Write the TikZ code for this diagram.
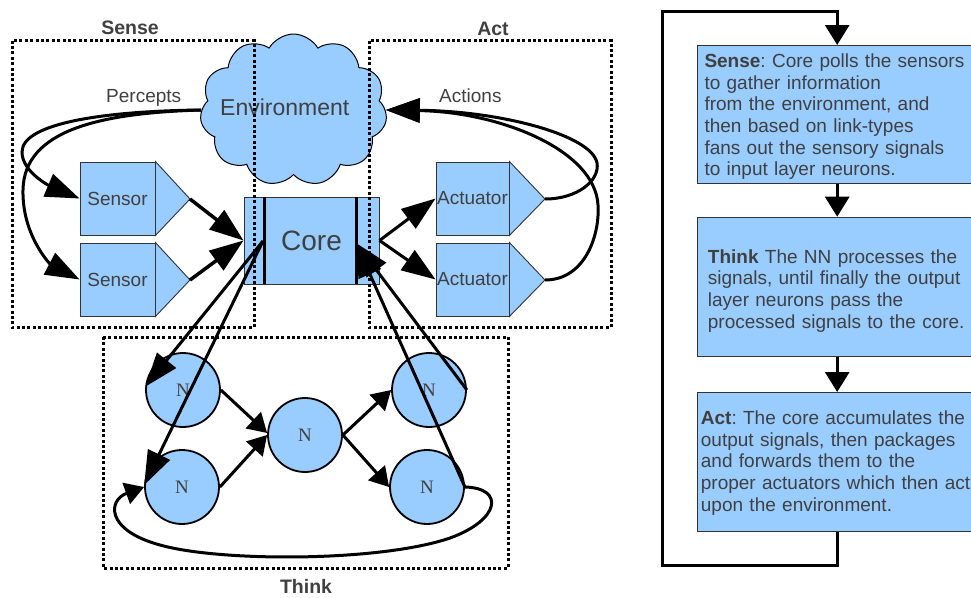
\documentclass[tikz,border=0pt]{standalone}
\usepackage{fontspec}
\setmainfont{Liberation Sans}
\newfontfamily\neurofont{Liberation Serif}
\usetikzlibrary{arrows.meta,shapes.symbols}
\definecolor{skyfill}{HTML}{99CCFF}
\definecolor{inkgray}{HTML}{404040}
\definecolor{edgegray}{HTML}{333333}
\frenchspacing
\begin{document}
\begin{tikzpicture}[x=1pt,y=-1pt,
  every node/.style={text=inkgray},
  font=\fontsize{19}{21.6}\selectfont,
  dotbox/.style={draw=black, line width=3pt, dash pattern=on 3pt off 2.4pt},
  sqbox/.style={rectangle, draw=edgegray, fill=skyfill, line width=0.9pt, minimum width=75pt, minimum height=73pt, inner sep=0pt},
  tri/.style={draw=edgegray, fill=skyfill, line width=0.9pt},
  neuron/.style={circle, draw=black, fill=skyfill, line width=1.8pt, minimum size=74pt, inner sep=0pt, font=\neurofont\fontsize{19}{19}\selectfont},
  bigarrow/.style={line width=3pt, -{Triangle[length=34pt,width=24pt]}},
  smallarrow/.style={line width=3pt, -{Triangle[length=19pt,width=22pt]}},
  stepbox/.style={rectangle, draw=edgegray, fill=skyfill, line width=1pt, anchor=north west, inner sep=0pt, minimum width=280pt},
  steptext/.style={anchor=base west, text width=272pt, align=left, inner sep=0pt},
  loopline/.style={line width=3pt, -{Triangle[length=20pt,width=24pt]}},
  heading/.style={font=\bfseries\fontsize{19.5}{21}\selectfont}
]
\useasboundingbox (0,0) rectangle (971,597);

% ---------- left diagram ----------
\node[cloud, cloud puffs=11, cloud puff arc=120, aspect=1.23, minimum width=187pt, minimum height=152pt,
      fill=skyfill, draw=black, line width=1pt, inner sep=0pt] (env) at (293.5,110) {};
\node[anchor=base west, inner sep=0pt, font=\fontsize{23}{23}\selectfont] (envtext) at (220,115) {Environment};

\node[rectangle, draw=edgegray, fill=skyfill, line width=1pt, minimum width=135pt, minimum height=87pt, inner sep=0pt,
      font=\fontsize{28}{28}\selectfont] (core) at (311.5,240.5) {Core};
\draw[line width=3pt] (264,197) -- (264,284);
\draw[line width=3pt] (356,197) -- (356,284);

% sensors
\node[sqbox] (s1) at (117.5,198.5) {Sensor};
\draw[tri] (s1.north east) -- (190,199) -- (s1.south east) -- cycle;
\coordinate (s1p) at (190,199);
\node[sqbox] (s2) at (117.5,279.5) {Sensor};
\draw[tri] (s2.north east) -- (190,280) -- (s2.south east) -- cycle;
\coordinate (s2p) at (190,280);

% actuators
\node[sqbox, minimum width=73pt] (a1) at (472.5,198.5) {Actuator};
\draw[tri] (a1.north east) -- (545,199) -- (a1.south east) -- cycle;
\coordinate (a1p) at (545,199);
\node[sqbox, minimum width=73pt] (a2) at (472.5,279.5) {Actuator};
\draw[tri] (a2.north east) -- (545,280) -- (a2.south east) -- cycle;
\coordinate (a2p) at (545,280);

% neurons
\node[neuron] (n1) at (183,390) {N};
\node[neuron] (n2) at (182,487) {N};
\node[neuron] (n3) at (305,435) {N};
\node[neuron] (n4) at (429,390) {N};
\node[neuron] (n5) at (427,487) {N};

% dotted groups
\draw[dotbox] (12,40.5) rectangle (254,327.5);
\draw[dotbox] (369,40.5) rectangle (611,327.5);
\draw[dotbox] (103,337) rectangle (508,568);

\node[heading] (lsense) at (130,28) {Sense};
\node[heading] (lact) at (493,28.5) {Act};
\node[heading] (lthink) at (306,586.5) {Think};
\node[anchor=base west, inner sep=0pt] (lperc) at (106,102) {Percepts};
\node[anchor=base west, inner sep=0pt] (lacts) at (439,102) {Actions};

% percepts
\draw[bigarrow] (env.west) .. controls (110,111) and (22,122) .. (22,152)
                 .. controls (22,172) and (50,186) .. (s1.west);
\draw[bigarrow] (env.west) .. controls (100,113) and (24,130) .. (23,190)
                 .. controls (22,235) and (50,264) .. (s2.west);

% actions
\draw[bigarrow] (a1p) .. controls (578,199) and (600,180) .. (597,163)
                 .. controls (592,135) and (500,111) .. (env.east);
\draw[bigarrow] (a2p) .. controls (585,280) and (600,235) .. (598,205)
                 .. controls (595,150) and (500,112) .. (env.east);

% sensors -> core -> actuators
\draw[bigarrow, line width=3.5pt] (s1p) -- (core.west);
\draw[bigarrow, line width=3.5pt] (s2p) -- (core.west);
\draw[bigarrow] (core.east) -- (a1.west);
\draw[bigarrow] (core.east) -- (a2.west);

% core <-> neurons
\coordinate (cl) at (263,241);
\coordinate (cr) at (356,243);
\draw[bigarrow] (cl) -- (n1.175);
\draw[bigarrow] (cl) -- (n2.177);
\draw[bigarrow] (n4.east) -- (cr);
\draw[bigarrow] (n5.east) -- (cr);

% neuron links
\draw[smallarrow] (n1.east) -- (n3.177);
\draw[smallarrow] (n2.east) -- (n3.west);
\draw[smallarrow] (n3.east) -- (n4.west);
\draw[smallarrow] (n3.east) -- (n5.west);
\draw[smallarrow] (n5.east) .. controls (505,488) and (500,520) .. (450,538)
                  .. controls (380,562) and (220,562) .. (160,545)
                  .. controls (105,530) and (108,500) .. (n2.west);

% ---------- right panel ----------
\node[stepbox, minimum height=137.7pt] (b1) at (696.7,45) {};
\node[stepbox, minimum height=139.6pt] (b2) at (696.7,216.7) {};
\node[stepbox, minimum height=139.3pt] (b3) at (696.7,392) {};

\node[steptext] (t1) at (704.3,67.7) {\textbf{Sense}: Core polls the sensors\\to gather information\\from the environment, and\\then based on link-types\\fans out the sensory signals\\to input layer neurons.};
\node[steptext] (t2) at (707.7,263.3) {\textbf{Think} The NN processes the\\signals, until finally the output\\layer neurons pass the\\processed signals to the core.};
\node[steptext] (t3) at (700.7,424.7) {\textbf{Act}: The core accumulates the\\output signals, then packages\\and forwards them to the\\proper actuators which then act\\upon the environment.};

\draw[loopline] (b1.south) -- (b2.north);
\draw[loopline] (b2.south) -- (b3.north);
\coordinate (lbl) at (662.3,565.7);
\coordinate (ltl) at (662.3,11.7);
\draw[loopline] (b3.south) -- (b3.south |- lbl) -- (lbl) -- (ltl) -- (b1.north |- ltl) -- (b1.north);
\end{tikzpicture}
\end{document}
